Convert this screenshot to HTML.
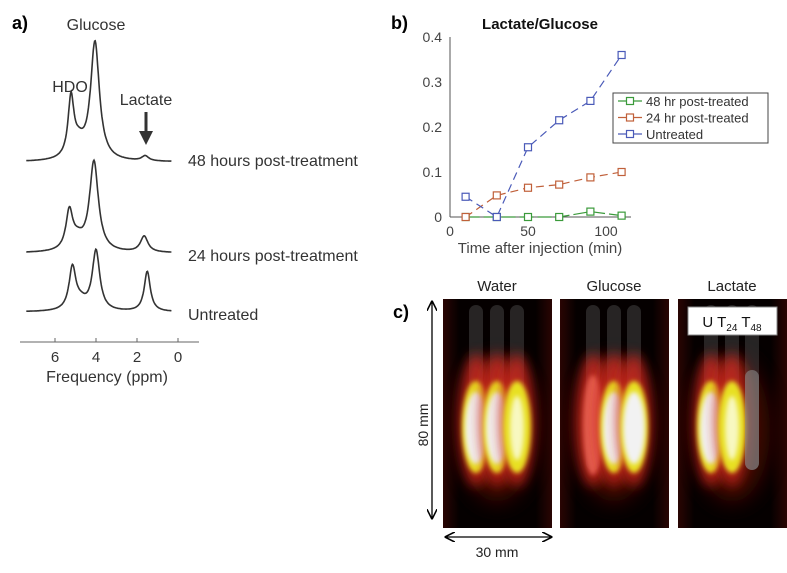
<!DOCTYPE html>
<html><head><meta charset="utf-8"><style>
body{margin:0;background:#fff;width:787px;height:568px;overflow:hidden;font-family:"Liberation Sans",sans-serif}
</style></head><body>
<svg width="787" height="568" viewBox="0 0 787 568" xmlns="http://www.w3.org/2000/svg">
<defs>
<filter id="b3" x="-50%" y="-50%" width="200%" height="200%"><feGaussianBlur stdDeviation="2.5"/></filter>
<filter id="b6" x="-80%" y="-50%" width="260%" height="200%"><feGaussianBlur stdDeviation="6"/></filter>
<filter id="b10" x="-80%" y="-50%" width="260%" height="200%"><feGaussianBlur stdDeviation="10"/></filter>
<linearGradient id="bg" x1="0" x2="1"><stop offset="0" stop-color="#2a0503"/><stop offset="0.15" stop-color="#050000"/><stop offset="0.85" stop-color="#050000"/><stop offset="1" stop-color="#2a0503"/></linearGradient>
<marker id="ah" markerWidth="8" markerHeight="8" refX="7" refY="4" orient="auto-start-reverse"><path d="M0,0 L8,4 L0,8" fill="none" stroke="#000" stroke-width="1.2"/></marker>
</defs>

<g>
<text x="12" y="29" font-size="18" font-weight="bold" fill="#000">a)</text>
<text x="96" y="30" font-size="16" fill="#333" text-anchor="middle">Glucose</text>
<text x="70" y="92" font-size="16" fill="#333" text-anchor="middle">HDO</text>
<text x="146" y="105" font-size="16" fill="#333" text-anchor="middle">Lactate</text>
<line x1="146" y1="112" x2="146" y2="133" stroke="#333" stroke-width="3"/>
<polygon points="139,131 153,131 146,145" fill="#333"/>
<g id="spectra"></g>
<line x1="20" y1="342" x2="199" y2="342" stroke="#666" stroke-width="1"/>
<g id="freqticks"></g>
<text x="107" y="382" font-size="16" fill="#333" text-anchor="middle">Frequency (ppm)</text>
<text x="188" y="166" font-size="16" fill="#333">48 hours post-treatment</text>
<text x="188" y="261" font-size="16" fill="#333">24 hours post-treatment</text>
<text x="188" y="320" font-size="16" fill="#333">Untreated</text>
</g>

<g>
<text x="391" y="29" font-size="18" font-weight="bold" fill="#000">b)</text>
<text x="540" y="29" font-size="15" font-weight="bold" fill="#111" text-anchor="middle">Lactate/Glucose</text>
<g id="chartb"></g>
<text x="540" y="253" font-size="15" fill="#444" text-anchor="middle">Time after injection (min)</text>
</g>

<g>
<text x="393" y="318" font-size="18" font-weight="bold" fill="#000">c)</text>
<text x="497" y="291" font-size="15" fill="#222" text-anchor="middle">Water</text>
<text x="614" y="291" font-size="15" fill="#222" text-anchor="middle">Glucose</text>
<text x="732" y="291" font-size="15" fill="#222" text-anchor="middle">Lactate</text>
<g id="images"></g>
<line x1="432" y1="302" x2="432" y2="518" stroke="#000" stroke-width="1.3" marker-start="url(#ah)" marker-end="url(#ah)"/>
<text transform="translate(428,425) rotate(-90)" font-size="14" fill="#222" text-anchor="middle">80 mm</text>
<line x1="446" y1="537" x2="551" y2="537" stroke="#000" stroke-width="1.3" marker-start="url(#ah)" marker-end="url(#ah)"/>
<text x="497" y="557" font-size="14" fill="#222" text-anchor="middle">30 mm</text>
<rect x="688" y="307" width="89" height="28" fill="#fff" stroke="#888"/>
<text x="732" y="327" font-size="15" fill="#111" text-anchor="middle">U T<tspan font-size="10" dy="4">24</tspan><tspan dy="-4"> T</tspan><tspan font-size="10" dy="4">48</tspan></text>
</g>
</svg>
<script>
const times = [10, 30, 50, 70, 90, 110];
const untreated = [0.045, 0.0, 0.155, 0.215, 0.258, 0.36];
const treated24 = [0.0, 0.048, 0.065, 0.072, 0.088, 0.1];
const treated48 = [0.0, 0.0, 0.0, 0.0, 0.012, 0.003];
const xTicks = [0, 50, 100];
const yTicks = [0, 0.1, 0.2, 0.3, 0.4];
const seriesNames = ["48 hr post-treated", "24 hr post-treated", "Untreated"];

const spectrumNames = ["48h", "24h", "untreated"];
const baselines = [162, 253, 312];
const hdoPeaks = [[5.22, 58, 0.17], [5.3, 38, 0.2], [5.15, 42, 0.2]];
const glucosePeaks = [[4.05, 118, 0.26], [4.1, 90, 0.26], [4.0, 60, 0.22]];
const lactatePeaks = [[1.6, 5, 0.2], [1.65, 16, 0.22], [1.5, 40, 0.18]];
const shoulderPeaks = [[4.85, 14, 0.35], [4.9, 10, 0.35], [4.75, 8, 0.35]];
const ppmTicks = [6, 4, 2, 0];

const NS = "http://www.w3.org/2000/svg";
function mk(tag, attrs, parent) { const e = document.createElementNS(NS, tag); for (const k in attrs) e.setAttribute(k, attrs[k]); parent.appendChild(e); return e; }

const px = p => 178 - 20.5 * p;
const spec = document.getElementById("spectra");
const lor = (x, pk) => pk[1] / (1 + Math.pow((x - pk[0]) / pk[2], 2));
spectrumNames.forEach((nm, i) => {
  let d = "";
  for (let p = 7.4; p >= 0.3; p -= 0.03) {
    const h = lor(p, hdoPeaks[i]) + lor(p, glucosePeaks[i]) + lor(p, lactatePeaks[i]) + lor(p, shoulderPeaks[i]);
    d += (d ? "L" : "M") + px(p).toFixed(1) + "," + (baselines[i] - h).toFixed(1);
  }
  const path = mk("path", { d: d, fill: "none", stroke: "#333", "stroke-width": 1.6 }, spec);
  
  
});
const ft = document.getElementById("freqticks");
ppmTicks.forEach(t => {
  mk("line", { x1: px(t), x2: px(t), y1: 342, y2: 338, stroke: "#666" }, ft);
  const tx = mk("text", { x: px(t), y: 362, "font-size": 15, fill: "#333", "text-anchor": "middle" }, ft);
  tx.textContent = t;
  
  
});

const X = v => 450 + v * 1.56;
const Y = v => 217 - v * 450;
const cb = document.getElementById("chartb");
mk("line", { x1: 450, y1: 37, x2: 450, y2: 217, stroke: "#555" }, cb);
mk("line", { x1: 450, y1: 217, x2: 631, y2: 217, stroke: "#555" }, cb);
yTicks.forEach(t => {
  const tx = mk("text", { x: 442, y: Y(t) + 5, "font-size": 14, fill: "#444", "text-anchor": "end" }, cb);
  tx.textContent = t;
  
  
});
xTicks.forEach(t => {
  const tx = mk("text", { x: X(t), y: 236, "font-size": 14, fill: "#444", "text-anchor": "middle" }, cb);
  tx.textContent = t;
  
  
});
const colors = ["#3a9a3a", "#c0603a", "#4a5ab8"];
[treated48, treated24, untreated].forEach((vals, s) => {
  const pts = vals.map((v, i) => X(times[i]) + "," + Y(v)).join(" ");
  const pl = mk("polyline", { points: pts, fill: "none", stroke: colors[s], "stroke-width": 1.2, "stroke-dasharray": s === 0 ? "14,4" : "8,5" }, cb);
  
  
  vals.forEach((v, i) => {
    const r = mk("rect", { x: X(times[i]) - 3.5, y: Y(v) - 3.5, width: 7, height: 7, fill: "#fff", stroke: colors[s], "stroke-width": 1.2 }, cb);
    
    
  });
});
const lg = mk("g", {}, cb);


mk("rect", { x: 613, y: 93, width: 155, height: 50, fill: "#fff", stroke: "#444" }, lg);
seriesNames.forEach((n, i) => {
  const y = 101 + i * 16.5;
  mk("line", { x1: 618, x2: 642, y1: y, y2: y, stroke: colors[i], "stroke-width": 1.2 }, lg);
  mk("rect", { x: 626.5, y: y - 3.5, width: 7, height: 7, fill: "#fff", stroke: colors[i], "stroke-width": 1.2 }, lg);
  const tx = mk("text", { x: 646, y: y + 5, "font-size": 13, fill: "#333" }, lg);
  tx.textContent = n;
  
  
});

const imgX = [443, 560, 678];
const imgNames = ["water", "glucose", "lactate"];
const tubeOffsets = [-21, 0, 20];
const blobLevels = [[3, 3, 2], [1, 3, 3], [3, 2, 0]];
const imgs = document.getElementById("images");
imgX.forEach((x0, k) => {
  const g = mk("g", {}, imgs);
  
  
  const cp = mk("clipPath", { id: "cp" + k }, g);
  mk("rect", { x: x0, y: 299, width: 109, height: 229 }, cp);
  const gi = mk("g", { "clip-path": "url(#cp" + k + ")" }, g);
  mk("rect", { x: x0, y: 299, width: 109, height: 229, fill: "url(#bg)" }, gi);
  const cx = x0 + 54;
  mk("ellipse", { cx: cx, cy: 430, rx: 38, ry: 72, fill: "#5a0804", opacity: 0.7, filter: "url(#b10)" }, gi);
  tubeOffsets.forEach((o, j) => {
    mk("rect", { x: cx + o - 7, y: 305, width: 14, height: 165, rx: 7, fill: "#777", opacity: 0.3 }, gi);
  });
  tubeOffsets.forEach((o, j) => {
    const lv = blobLevels[k][j];
    const c = cx + o;
    if (lv === 0) { mk("rect", { x: c - 7, y: 370, width: 14, height: 100, rx: 7, fill: "#888", opacity: 0.6 }, gi); return; }
    mk("ellipse", { cx: c, cy: 420, rx: 17, ry: 66, fill: "#c8281a", opacity: 0.85, filter: "url(#b6)" }, gi);
    if (lv === 1) { mk("ellipse", { cx: c, cy: 425, rx: 10, ry: 50, fill: "#f06a5a", opacity: 0.8, filter: "url(#b3)" }, gi); return; }
    mk("ellipse", { cx: c, cy: 427, rx: 14, ry: 46, fill: "#e8e020", filter: "url(#b3)" }, gi);
    if (lv === 3) mk("ellipse", { cx: c, cy: 428, rx: 11, ry: 36, fill: "#f2f2f2", filter: "url(#b3)" }, gi);
    else mk("ellipse", { cx: c, cy: 428, rx: 7, ry: 32, fill: "#f8f8c0", filter: "url(#b3)" }, gi);
  });
});
</script>
</body></html>
